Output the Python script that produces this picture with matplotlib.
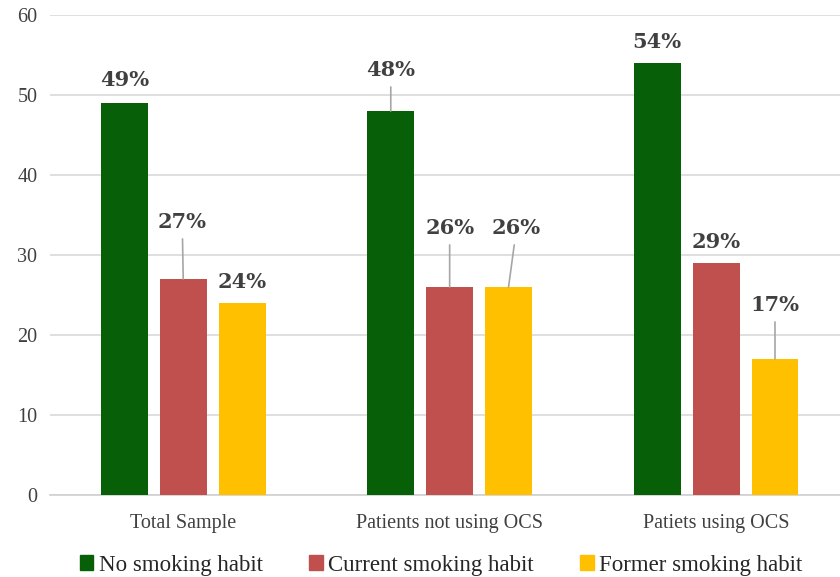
import numpy as np
import matplotlib
matplotlib.use("Agg")
import matplotlib.pyplot as plt
from matplotlib.patches import Patch

groups = ["Total Sample", "Patients not using OCS", "Patiets using OCS"]
series = ["No smoking habit", "Current smoking habit", "Former smoking habit"]
no_smoking = [49, 48, 54]
current_smoking = [27, 26, 29]
former_smoking = [24, 26, 17]
colors = ["#075f07", "#c0504d", "#ffc000"]

# label offsets from the bar top (pixels) and whether a leader line is drawn
label_offsets = [
    [(0, 23, False), (0, 41, True), (0, 21, False)],
    [(-1, 57, True), (0, 59, True), (0, 21, False)],
    [(0, 21, False), (8, 59, True), (0, 54, True)],
]

fig = plt.figure(figsize=(8.4, 5.77), dpi=100)
ax = fig.add_axes([50 / 840, 82 / 577, 790 / 840, 480 / 577])

x = np.arange(len(groups))
width = 0.176
step = 0.221
tick_font = dict(family="Liberation Serif", size=14.5, color="#404040")
label_font = dict(family="DejaVu Serif", size=15, weight="bold", color="#404040")

for j, vals in enumerate([no_smoking, current_smoking, former_smoking]):
    xs = x + (j - 1) * step
    ax.bar(xs, vals, width, color=colors[j], zorder=3)
    for i, v in enumerate(vals):
        dx, dy, leader = label_offsets[j][i]
        arrow = dict(arrowstyle="-", color="#a6a6a6", lw=1.2,
                     shrinkA=3, shrinkB=0) if leader else None
        ax.annotate(f"{v}%", xy=(xs[i], v), xytext=(dx, dy),
                    textcoords="offset pixels", ha="center", va="center",
                    arrowprops=arrow, **label_font)

ax.set_ylim(0, 60)
ax.set_xlim(-0.5, 2.465)
ax.set_yticks(range(0, 61, 10))
ax.yaxis.grid(True, color="#d9d9d9", lw=1.2, zorder=0)
ax.set_axisbelow(True)
for s in ["top", "right", "left"]:
    ax.spines[s].set_visible(False)
ax.spines["bottom"].set_color("#d0d0d0")
ax.spines["bottom"].set_linewidth(1.2)
ax.tick_params(axis="x", length=0, pad=14)
ax.tick_params(axis="y", length=0, pad=9)
ax.set_xticks(x)
ax.set_xticklabels(groups, **tick_font)
for t in ax.get_yticklabels():
    t.set_fontfamily("Liberation Serif")
    t.set_fontsize(14.5)
    t.set_color("#404040")

handles = [Patch(color=c, label=s) for c, s in zip(colors, series)]
fig.legend(handles=handles, loc="center", bbox_to_anchor=(0.525, 12 / 577),
           ncol=3, frameon=False, handlelength=0.6, handleheight=0.6,
           handletextpad=0.25, columnspacing=2.0,
           prop=dict(family="Liberation Serif", size=16.5), labelcolor="#262626")

fig.savefig("out.png", dpi=100)
